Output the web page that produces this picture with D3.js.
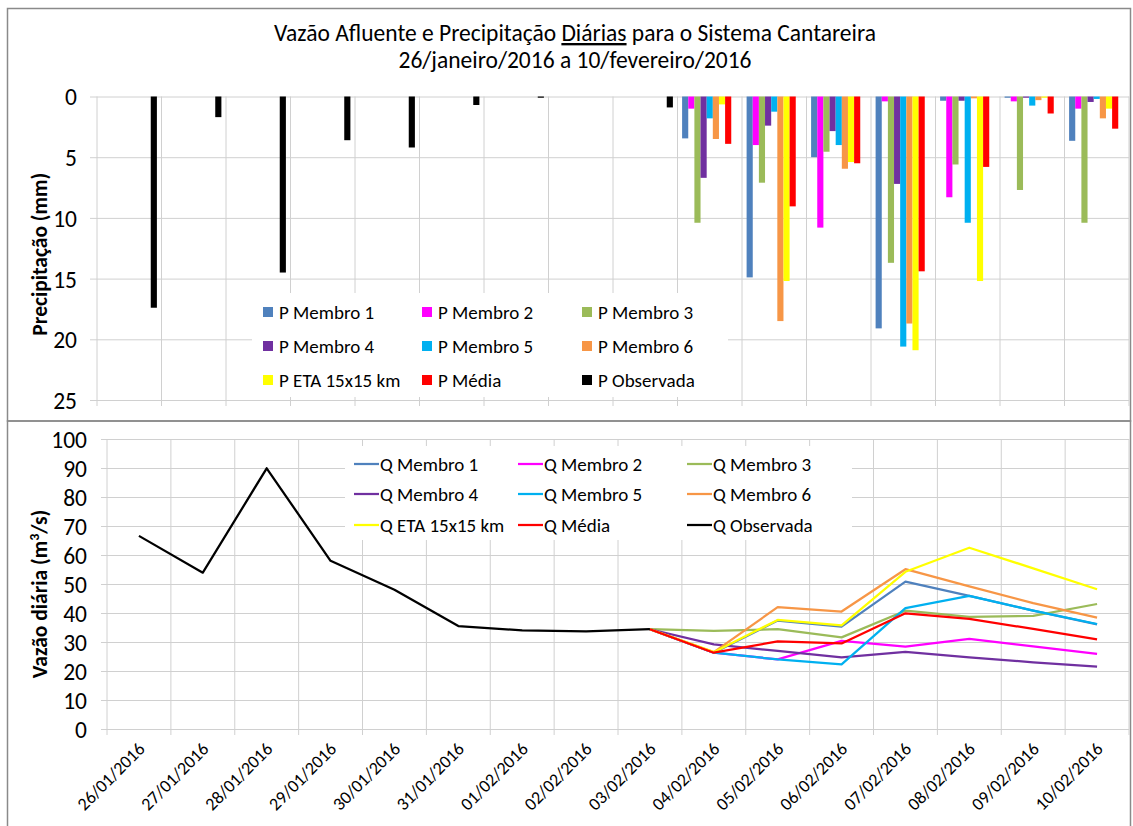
<!DOCTYPE html>
<html><head><meta charset="utf-8">
<script src="https://cdn.jsdelivr.net/npm/d3@7"></script>
<style>
html,body{margin:0;padding:0;background:#fff;}
svg{display:block;font-family:Carlito,Lato,"Open Sans",sans-serif;}
</style></head>
<body>
<svg id="c" width="1133" height="826"></svg>
<script>
const dates = ["26/01/2016","27/01/2016","28/01/2016","29/01/2016","30/01/2016","31/01/2016","01/02/2016","02/02/2016","03/02/2016","04/02/2016","05/02/2016","06/02/2016","07/02/2016","08/02/2016","09/02/2016","10/02/2016"];

// Precipitation (mm)
const pObs  = [17.4, 1.7, 14.5, 3.6, 4.2, 0.7, 0.1, 0, 0.9, null, null, null, null, null, null, null];
const pM1   = [null,null,null,null,null,null,null,null,null, 3.45, 14.9, 5.0, 19.1, 0.35, 0.1, 3.65];
const pM2   = [null,null,null,null,null,null,null,null,null, 1.0, 4.0, 10.8, 0.4, 8.3, 0.4, 1.0];
const pM3   = [null,null,null,null,null,null,null,null,null, 10.4, 7.1, 4.55, 13.7, 5.6, 7.7, 10.4];
const pM4   = [null,null,null,null,null,null,null,null,null, 6.7, 2.4, 2.85, 7.2, 0.35, 0.1, 0.45];
const pM5   = [null,null,null,null,null,null,null,null,null, 1.8, 1.25, 4.0, 20.6, 10.4, 0.75, 0.2];
const pM6   = [null,null,null,null,null,null,null,null,null, 3.5, 18.5, 5.95, 18.7, 0.15, 0.3, 1.8];
const pETA  = [null,null,null,null,null,null,null,null,null, 0.65, 15.2, 5.4, 20.9, 15.2, 0.1, 1.0];
const pMed  = [null,null,null,null,null,null,null,null,null, 3.9, 9.05, 5.5, 14.4, 5.8, 1.4, 2.65];

// Daily inflow (m3/s)
const qObs  = [66.6, 53.9, 89.9, 58.0, 48.0, 35.5, 34.0, 33.7, 34.4, null, null, null, null, null, null, null];
const qM1   = [null,null,null,null,null,null,null,null, 34.4, 26.3, 37.4, 35.3, 50.8, 45.9, 40.8, 36.1];
const qM2   = [null,null,null,null,null,null,null,null, 34.4, 26.3, 24.0, 30.4, 28.4, 31.1, 28.5, 25.9];
const qM3   = [null,null,null,null,null,null,null,null, 34.4, 33.8, 34.4, 31.6, 40.8, 38.7, 39.0, 43.1];
const qM4   = [null,null,null,null,null,null,null,null, 34.4, 29.2, 26.9, 24.7, 26.6, 24.7, 23.0, 21.5];
const qM5   = [null,null,null,null,null,null,null,null, 34.4, 26.3, 24.0, 22.3, 41.7, 45.9, 40.8, 36.2];
const qM6   = [null,null,null,null,null,null,null,null, 34.4, 26.5, 42.0, 40.5, 55.1, 49.2, 43.4, 38.4];
const qETA  = [null,null,null,null,null,null,null,null, 34.4, 26.5, 37.6, 35.7, 54.2, 62.5, 55.4, 48.2];
const qMed  = [null,null,null,null,null,null,null,null, 34.4, 26.3, 30.2, 29.5, 39.9, 38.0, 34.5, 30.9];

const precipTicks = [0,5,10,15,20,25];
const flowTicks = [0,10,20,30,40,50,60,70,80,90,100];

const pNames = ["P Membro 1","P Membro 2","P Membro 3","P Membro 4","P Membro 5","P Membro 6","P ETA 15x15 km","P Média","P Observada"];
const qNames = ["Q Membro 1","Q Membro 2","Q Membro 3","Q Membro 4","Q Membro 5","Q Membro 6","Q ETA 15x15 km","Q Média","Q Observada"];
const colors = ["#4F81BD","#FF00FF","#9BBB59","#7030A0","#00B0F0","#F79646","#FFFF00","#FF0000","#000000"];

const pSeries = [pM1,pM2,pM3,pM4,pM5,pM6,pETA,pMed,pObs];
const qSeries = [qM1,qM2,qM3,qM4,qM5,qM6,qETA,qMed,qObs];

const FAM = "Carlito,Lato,'Open Sans',sans-serif";
const svg = d3.select("#c");
const grid = "#D0D0D0";
const FONT_TICK = 23.5;
const FONT_LEG = 19;

// frames
svg.append("rect").attr("x",7.5).attr("y",8.5).attr("width",1123).attr("height",412.5)
  .attr("fill","none").attr("stroke","#8a8a8a").attr("stroke-width",1.5);
svg.append("rect").attr("x",7.5).attr("y",421).attr("width",1123).attr("height",410)
  .attr("fill","none").attr("stroke","#8a8a8a").attr("stroke-width",1.5);

// title
const title = svg.append("text").attr("x",575).attr("y",41).attr("text-anchor","middle")
  .attr("font-size",23.5).attr("fill","#000");
title.append("tspan").text("Vazão Afluente e Precipitação ");
title.append("tspan").attr("text-decoration","underline").text("Diárias");
title.append("tspan").text(" para o Sistema Cantareira");
svg.append("text").attr("x",575).attr("y",68).attr("text-anchor","middle")
  .attr("font-size",23.5).text("26/janeiro/2016 a 10/fevereiro/2016");

// ---------- TOP (precipitation) ----------
const tL = 97, tR = 1129, tT = 96.5, tB = 400;
const xT = d3.scaleBand().domain(dates).range([tL,tR]).padding(0);
const xTs = d3.scaleBand().domain(pNames).range([0,xT.bandwidth()]).paddingInner(0).paddingOuter(0.75);
const yT = d3.scaleLinear().domain([0,25]).range([tT,tB]);

const gT = svg.append("g");
gT.append("g").attr("transform",`translate(${tL},0)`)
  .call(d3.axisLeft(yT).tickValues(precipTicks).tickSize(7).tickPadding(13).tickFormat(d3.format("d")))
  .attr("font-family",FAM).attr("font-size",FONT_TICK)
  .call(g=>{g.select(".domain").remove();
    g.selectAll(".tick line").attr("stroke",grid);
    g.selectAll(".tick text").attr("fill","#000").attr("dy","0.36em");})
  .call(g=>g.selectAll(".tick").append("line").attr("x1",0).attr("x2",tR-tL).attr("stroke",grid));
const bndT = dates.map((d,i)=>i).concat([dates.length]);
gT.append("g").selectAll("line").data(bndT.slice(1)).join("line")
  .attr("x1",i=> i<dates.length ? xT(dates[i]) : tR).attr("x2",i=> i<dates.length ? xT(dates[i]) : tR)
  .attr("y1",tT).attr("y2",tB+6).attr("stroke",grid);
gT.append("line").attr("x1",tL).attr("x2",tL).attr("y1",tT).attr("y2",tB+6).attr("stroke",grid);

pSeries.forEach((arr,si)=>{
  gT.append("g").selectAll("rect").data(arr.map((v,i)=>({v,i})).filter(d=>d.v!=null && d.v>0)).join("rect")
    .attr("x",d=>xT(dates[d.i])+xTs(pNames[si]))
    .attr("width",xTs.bandwidth())
    .attr("y",yT(0))
    .attr("height",d=>yT(d.v)-yT(0))
    .attr("fill",colors[si]);
});

const lgT = svg.append("g");
lgT.append("rect").attr("x",252).attr("y",293).attr("width",476).attr("height",104).attr("fill","#fff");
const colX = [263,422,582], rowY = [312,346,380];
pNames.forEach((n,i)=>{
  const cx = colX[i%3], cy = rowY[Math.floor(i/3)];
  lgT.append("rect").attr("x",cx).attr("y",cy-5).attr("width",10).attr("height",10).attr("fill",colors[i]);
  lgT.append("text").attr("x",cx+16).attr("y",cy+7).attr("font-size",FONT_LEG).text(n);
});

svg.append("text").attr("transform",`translate(47,${(tT+tB)/2+6}) rotate(-90)`)
  .attr("text-anchor","middle").attr("font-size",21.5).attr("font-weight","bold").text("Precipitação (mm)");

// ---------- BOTTOM (flow) ----------
const bL = 107, bR = 1129, bT = 439, bB = 729;
const xB = d3.scaleBand().domain(dates).range([bL,bR]).padding(0);
const yB = d3.scaleLinear().domain([0,100]).range([bB,bT]);
const gB = svg.append("g");
gB.append("g").attr("transform",`translate(${bL},0)`)
  .call(d3.axisLeft(yB).tickValues(flowTicks).tickSize(6).tickPadding(14).tickFormat(d3.format("d")))
  .attr("font-family",FAM).attr("font-size",FONT_TICK)
  .call(g=>{g.select(".domain").remove();
    g.selectAll(".tick line").attr("stroke",grid);
    g.selectAll(".tick text").attr("fill","#000").attr("dy","0.36em");})
  .call(g=>g.selectAll(".tick").append("line").attr("x1",0).attr("x2",bR-bL).attr("stroke",grid));
gB.append("g").selectAll("line").data(bndT).join("line")
  .attr("x1",i=> i<dates.length ? xB(dates[i]) : bR).attr("x2",i=> i<dates.length ? xB(dates[i]) : bR)
  .attr("y1",bT).attr("y2",bB+6).attr("stroke",grid);

gB.append("g").attr("transform",`translate(0,${bB})`)
  .call(d3.axisBottom(xB).tickSize(0).tickPadding(0))
  .attr("font-family",FAM).attr("font-size",18)
  .call(g=>{g.select(".domain").remove();
    g.selectAll(".tick text").attr("fill","#000")
      .attr("text-anchor","end").attr("dy",0).attr("transform","translate(7,21) rotate(-45)");});

const lgB = svg.append("g");
lgB.append("rect").attr("x",345).attr("y",446).attr("width",507).attr("height",94).attr("fill","#fff");

const line = d3.line().defined(d=>d.v!=null).x(d=>xB(dates[d.i])+xB.bandwidth()/2).y(d=>yB(d.v));
qSeries.forEach((arr,si)=>{
  gB.append("path").datum(arr.map((v,i)=>({v,i})))
    .attr("d",line).attr("fill","none").attr("stroke",colors[si])
    .attr("stroke-width",2.25).attr("stroke-linejoin","round");
});

const colXB = [354,518,687], rowYB = [464,494,525];
qNames.forEach((n,i)=>{
  const cx = colXB[i%3], cy = rowYB[Math.floor(i/3)];
  lgB.append("line").attr("x1",cx).attr("x2",cx+25).attr("y1",cy).attr("y2",cy).attr("stroke",colors[i]).attr("stroke-width",2.25);
  lgB.append("text").attr("x",cx+26).attr("y",cy+7).attr("font-size",FONT_LEG).text(n);
});
lgB.raise();

const yl = svg.append("text").attr("transform",`translate(47,${(bT+bB)/2+10}) rotate(-90)`)
  .attr("text-anchor","middle").attr("font-size",21.5).attr("font-weight","bold");
yl.append("tspan").text("Vazão diária (m");
yl.append("tspan").attr("baseline-shift","super").attr("font-size",14).text("3");
yl.append("tspan").text("/s)");
</script>
</body></html>
